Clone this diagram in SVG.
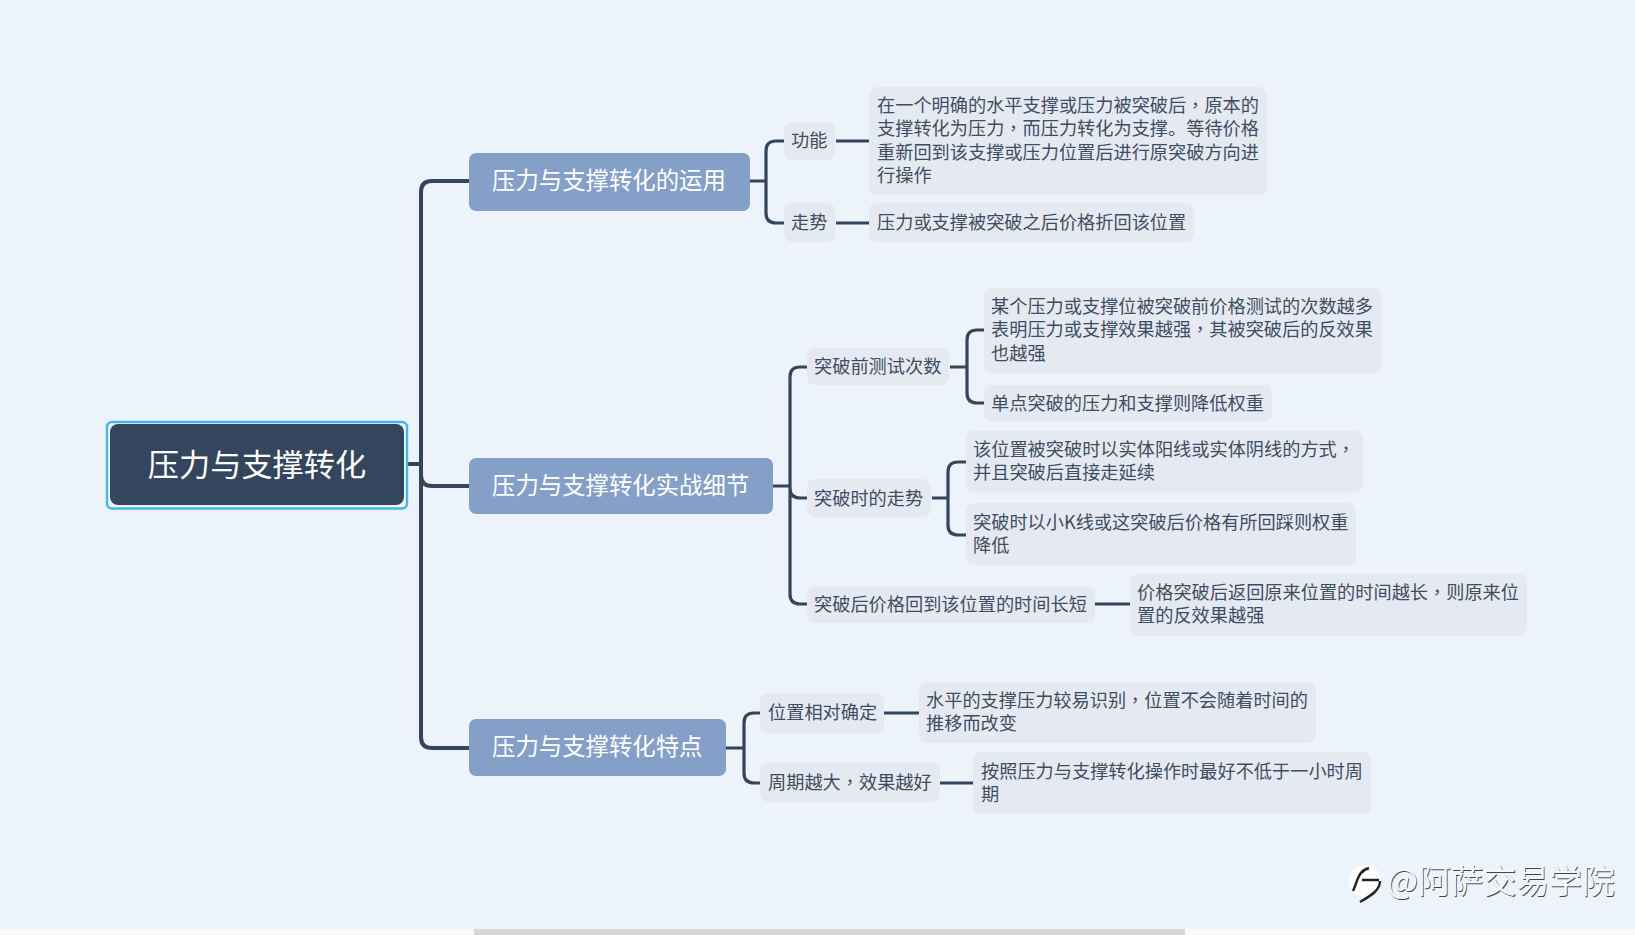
<svg xmlns="http://www.w3.org/2000/svg" width="1635" height="935" viewBox="0 0 1635 935">
<style>
text{font-family:"Noto Sans CJK SC","Microsoft YaHei",sans-serif}
.leaf rect{fill:#e5eaf2}
.leaf text{font-size:18.2px;fill:#3f4d62}
.p{font-family:"Noto Sans CJK TC",sans-serif}
.branch rect{fill:#84a0c8}
.branch text{font-size:23.4px;fill:#fff}
.c{fill:none;stroke:#34455e;stroke-linecap:butt;stroke-linejoin:round}
.c1{stroke-width:4}
.c2{stroke-width:3.2}
.wm{font-size:32.8px}
</style>
<rect width="1635" height="935" fill="#ecf3fb"/>
<rect y="929" width="1635" height="6" fill="#fafafa"/>
<rect x="474" y="929" width="711" height="6" fill="#d6d6d6"/>
<g id="connectors">
<path class="c c1" d="M404 464H421M469 181H432Q421 181 421 192V737Q421 748 432 748H469M421 475Q421 486 432 486H469"/>
<path class="c c2" d="M750 181H766M784 141H776Q766 141 766 151V213Q766 223 776 223H784M836 141H869M836 223H869"/>
<path class="c c2" d="M773 486H790M807 367H800Q790 367 790 377V594Q790 604 800 604H807M790 488Q790 498 800 498H807"/>
<path class="c c2" d="M950 367H967M984 330H977Q967 330 967 340V393Q967 403 977 403H984M932 498H948M966 462H958Q948 462 948 472V525Q948 535 958 535H966M1095 604H1130"/>
<path class="c c2" d="M726 748H744M760 713H754Q744 713 744 723V773Q744 783 754 783H760M884 713H919M940 783H973"/>
</g>
<g id="root">
<rect x="107" y="422" width="300" height="86.500" rx="5" fill="#f4f8fd" stroke="#3fb8f0" stroke-width="2.4"/>
<rect x="110" y="424" width="294" height="81" rx="8" fill="#34455e"/>
<text x="257" y="475.500" font-size="31.2" fill="#fff" text-anchor="middle">压力与支撑转化</text>
</g>
<g id="b1" class="branch"><rect x="469" y="153" width="281" height="58" rx="7"/><text x="492" y="189">压力与支撑转化的运用</text></g>
<g id="b2" class="branch"><rect x="469" y="458" width="304" height="56" rx="7"/><text x="492" y="494">压力与支撑转化实战细节</text></g>
<g id="b3" class="branch"><rect x="469" y="719" width="257" height="57" rx="7"/><text x="492" y="755">压力与支撑转化特点</text></g>
<g id="n1" class="leaf"><rect x="784" y="122" width="51" height="38" rx="8"/><text x="791" y="146.800">功能</text></g>
<g id="n2" class="leaf"><rect x="784" y="203" width="51" height="39" rx="8"/><text x="791" y="228.800">走势</text></g>
<g id="n3" class="leaf"><rect x="869" y="87" width="398" height="108" rx="8"/><text y="111.800"><tspan x="877">在一个明确的水平支撑或压力被突破后<tspan class="p">，</tspan>原本的</tspan><tspan x="877" dy="23.5">支撑转化为压力<tspan class="p">，</tspan>而压力转化为支撑。等待价格</tspan><tspan x="877" dy="23.5">重新回到该支撑或压力位置后进行原突破方向进</tspan><tspan x="877" dy="23.5">行操作</tspan></text></g>
<g id="n4" class="leaf"><rect x="869" y="203" width="325" height="39" rx="8"/><text x="877" y="228.800">压力或支撑被突破之后价格折回该位置</text></g>
<g id="n5" class="leaf"><rect x="807" y="348" width="142" height="37" rx="8"/><text x="814" y="372.800">突破前测试次数</text></g>
<g id="n6" class="leaf"><rect x="984" y="288" width="397" height="85" rx="8"/><text y="312.800"><tspan x="991">某个压力或支撑位被突破前价格测试的次数越多</tspan><tspan x="991" dy="23.5">表明压力或支撑效果越强<tspan class="p">，</tspan>其被突破后的反效果</tspan><tspan x="991" dy="23.5">也越强</tspan></text></g>
<g id="n7" class="leaf"><rect x="984" y="385" width="288" height="37" rx="8"/><text x="991" y="409.800">单点突破的压力和支撑则降低权重</text></g>
<g id="n8" class="leaf"><rect x="807" y="479" width="124" height="38" rx="8"/><text x="814" y="504.800">突破时的走势</text></g>
<g id="n9" class="leaf"><rect x="966" y="430.500" width="397" height="62" rx="8"/><text y="455.800"><tspan x="973">该位置被突破时以实体阳线或实体阴线的方式<tspan class="p">，</tspan></tspan><tspan x="973" dy="23.5">并且突破后直接走延续</tspan></text></g>
<g id="n10" class="leaf"><rect x="966" y="503" width="390" height="62" rx="8"/><text y="528.800"><tspan x="973">突破时以小K线或这突破后价格有所回踩则权重</tspan><tspan x="973" dy="23.5">降低</tspan></text></g>
<g id="n11" class="leaf"><rect x="807" y="586" width="288" height="37" rx="8"/><text x="814" y="610.800">突破后价格回到该位置的时间长短</text></g>
<g id="n12" class="leaf"><rect x="1130" y="574" width="397" height="62" rx="8"/><text y="598.800"><tspan x="1137">价格突破后返回原来位置的时间越长<tspan class="p">，</tspan>则原来位</tspan><tspan x="1137" dy="23.5">置的反效果越强</tspan></text></g>
<g id="n13" class="leaf"><rect x="760" y="693" width="124" height="40" rx="8"/><text x="768" y="718.800">位置相对确定</text></g>
<g id="n14" class="leaf"><rect x="919" y="682" width="397" height="61" rx="8"/><text y="706.800"><tspan x="926">水平的支撑压力较易识别<tspan class="p">，</tspan>位置不会随着时间的</tspan><tspan x="926" dy="23.5">推移而改变</tspan></text></g>
<g id="n15" class="leaf"><rect x="760" y="763" width="180" height="39" rx="8"/><text x="768" y="788.800">周期越大<tspan class="p">，</tspan>效果越好</text></g>
<g id="n16" class="leaf"><rect x="973" y="752" width="398" height="62" rx="8"/><text y="777.800"><tspan x="981">按照压力与支撑转化操作时最好不低于一小时周</tspan><tspan x="981" dy="23.5">期</tspan></text></g>
<g id="watermark">
<circle cx="1365" cy="881" r="16" fill="#fff"/>
<path d="M1353 891C1358 880 1358 871 1369 868M1362 880H1379M1380 881C1380 890 1372 895 1360 902" fill="none" stroke="#222" stroke-width="2.4"/>
<text class="wm" x="1387.800" y="893.800" fill="#444">@阿萨交易学院</text>
<text class="wm" x="1387" y="893" fill="#f1f6fc">@阿萨交易学院</text>
</g>
</svg>
